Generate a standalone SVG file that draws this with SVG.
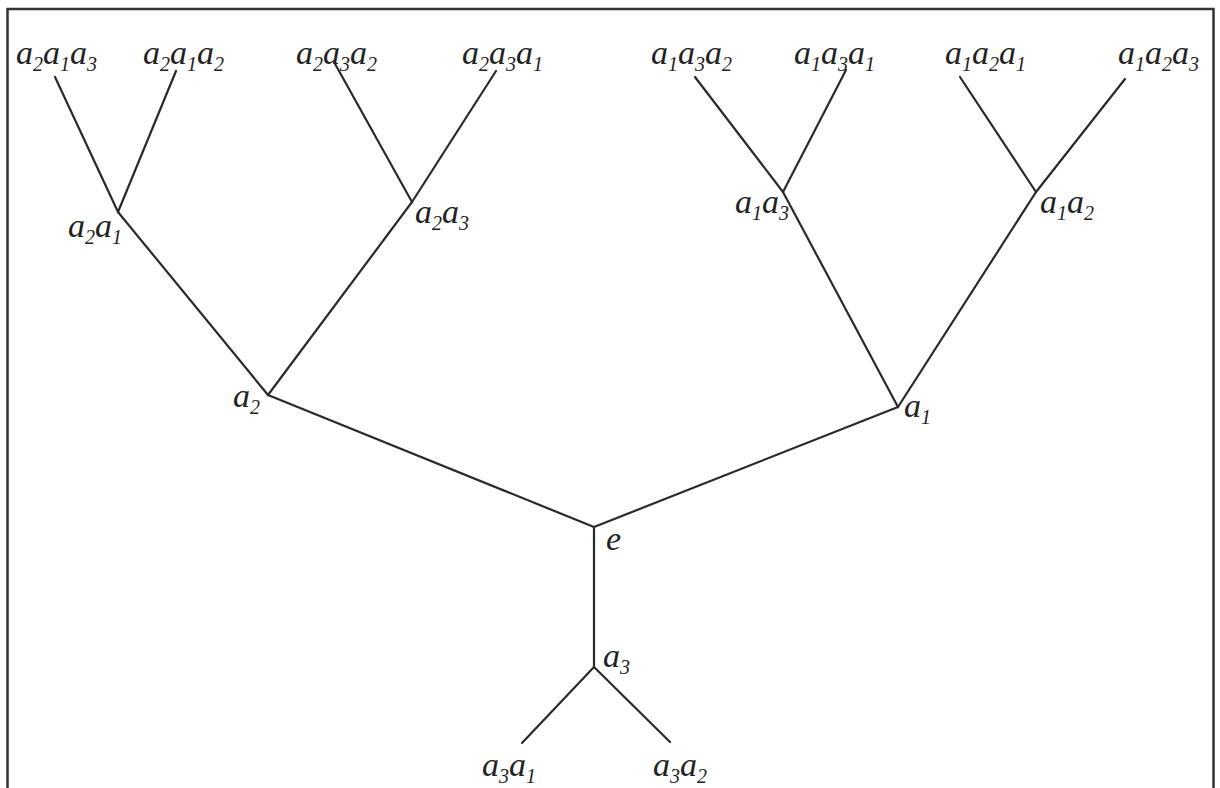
<svg xmlns="http://www.w3.org/2000/svg" width="1220" height="788" viewBox="0 0 1220 788">
<style>
.edge{stroke:#2a2a2a;stroke-width:2.2;stroke-linecap:round;fill:none}
.lbl{font-family:"Liberation Serif","Times New Roman",serif;font-style:italic;font-size:34px;fill:#222}
.s{font-size:20px}
</style>
<rect x="0" y="0" width="1220" height="788" fill="#fff"/>
<rect x="7.5" y="9" width="1206" height="800" fill="none" stroke="#333" stroke-width="2.5"/>
<g id="connectors" class="edge">
<line x1="594" y1="527" x2="268" y2="395"/>
<line x1="594" y1="527" x2="898" y2="407"/>
<line x1="594" y1="527" x2="594" y2="667"/>
<line x1="594" y1="667" x2="522" y2="743"/>
<line x1="594" y1="667" x2="670" y2="742"/>
<line x1="268" y1="395" x2="118" y2="212"/>
<line x1="268" y1="395" x2="412" y2="202"/>
<line x1="118" y1="212" x2="55" y2="77"/>
<line x1="118" y1="212" x2="176" y2="71"/>
<line x1="412" y1="202" x2="334" y2="62"/>
<line x1="412" y1="202" x2="496" y2="71"/>
<line x1="898" y1="407" x2="783" y2="192"/>
<line x1="898" y1="407" x2="1036" y2="192"/>
<line x1="783" y1="192" x2="695" y2="77"/>
<line x1="783" y1="192" x2="846" y2="70"/>
<line x1="1036" y1="192" x2="960" y2="77"/>
<line x1="1036" y1="192" x2="1125" y2="79"/>
</g>
<g id="n-e"><text class="lbl" x="606" y="550">e</text></g>
<g id="n-a2"><text class="lbl" x="233" y="407">a<tspan class="s" dy="7">2</tspan></text></g>
<g id="n-a1"><text class="lbl" x="904" y="417">a<tspan class="s" dy="7">1</tspan></text></g>
<g id="n-a3"><text class="lbl" x="603" y="667">a<tspan class="s" dy="7">3</tspan></text></g>
<g id="n-a3a1"><text class="lbl" x="482" y="776">a<tspan class="s" dy="7">3</tspan><tspan dy="-7">a</tspan><tspan class="s" dy="7">1</tspan></text></g>
<g id="n-a3a2"><text class="lbl" x="653" y="776">a<tspan class="s" dy="7">3</tspan><tspan dy="-7">a</tspan><tspan class="s" dy="7">2</tspan></text></g>
<g id="n-a2a1"><text class="lbl" x="68" y="237">a<tspan class="s" dy="7">2</tspan><tspan dy="-7">a</tspan><tspan class="s" dy="7">1</tspan></text></g>
<g id="n-a2a3"><text class="lbl" x="415" y="223">a<tspan class="s" dy="7">2</tspan><tspan dy="-7">a</tspan><tspan class="s" dy="7">3</tspan></text></g>
<g id="n-a1a3"><text class="lbl" x="735" y="213">a<tspan class="s" dy="7">1</tspan><tspan dy="-7">a</tspan><tspan class="s" dy="7">3</tspan></text></g>
<g id="n-a1a2"><text class="lbl" x="1040" y="213">a<tspan class="s" dy="7">1</tspan><tspan dy="-7">a</tspan><tspan class="s" dy="7">2</tspan></text></g>
<g id="n-a2a1a3"><text class="lbl" x="16" y="64">a<tspan class="s" dy="7">2</tspan><tspan dy="-7">a</tspan><tspan class="s" dy="7">1</tspan><tspan dy="-7">a</tspan><tspan class="s" dy="7">3</tspan></text></g>
<g id="n-a2a1a2"><text class="lbl" x="143" y="64">a<tspan class="s" dy="7">2</tspan><tspan dy="-7">a</tspan><tspan class="s" dy="7">1</tspan><tspan dy="-7">a</tspan><tspan class="s" dy="7">2</tspan></text></g>
<g id="n-a2a3a2"><text class="lbl" x="296" y="64">a<tspan class="s" dy="7">2</tspan><tspan dy="-7">a</tspan><tspan class="s" dy="7">3</tspan><tspan dy="-7">a</tspan><tspan class="s" dy="7">2</tspan></text></g>
<g id="n-a2a3a1"><text class="lbl" x="462" y="64">a<tspan class="s" dy="7">2</tspan><tspan dy="-7">a</tspan><tspan class="s" dy="7">3</tspan><tspan dy="-7">a</tspan><tspan class="s" dy="7">1</tspan></text></g>
<g id="n-a1a3a2"><text class="lbl" x="651" y="64">a<tspan class="s" dy="7">1</tspan><tspan dy="-7">a</tspan><tspan class="s" dy="7">3</tspan><tspan dy="-7">a</tspan><tspan class="s" dy="7">2</tspan></text></g>
<g id="n-a1a3a1"><text class="lbl" x="794" y="64">a<tspan class="s" dy="7">1</tspan><tspan dy="-7">a</tspan><tspan class="s" dy="7">3</tspan><tspan dy="-7">a</tspan><tspan class="s" dy="7">1</tspan></text></g>
<g id="n-a1a2a1"><text class="lbl" x="945" y="64">a<tspan class="s" dy="7">1</tspan><tspan dy="-7">a</tspan><tspan class="s" dy="7">2</tspan><tspan dy="-7">a</tspan><tspan class="s" dy="7">1</tspan></text></g>
<g id="n-a1a2a3"><text class="lbl" x="1118" y="64">a<tspan class="s" dy="7">1</tspan><tspan dy="-7">a</tspan><tspan class="s" dy="7">2</tspan><tspan dy="-7">a</tspan><tspan class="s" dy="7">3</tspan></text></g>
</svg>
